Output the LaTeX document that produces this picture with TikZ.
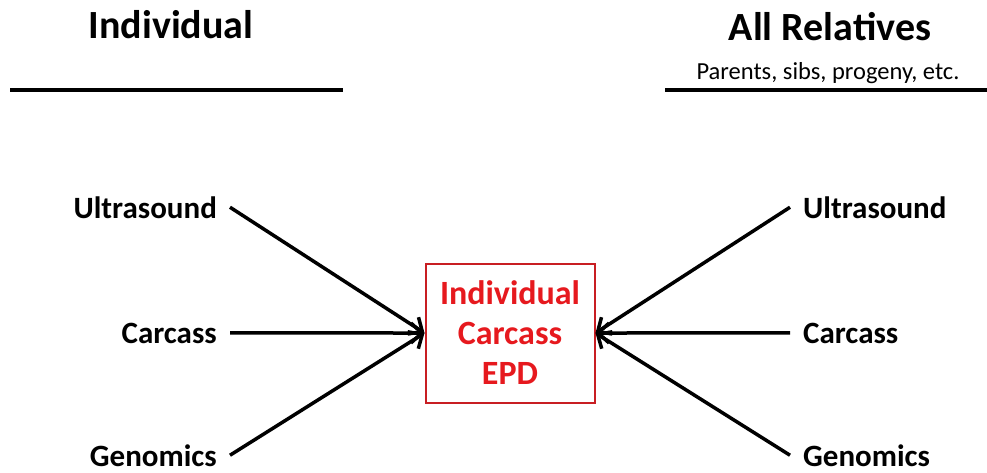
\documentclass[tikz,border=0pt]{standalone}
\usepackage{fontspec}
\setmainfont{Carlito}
\usetikzlibrary{arrows.meta}
\definecolor{boxred}{RGB}{200,30,35}
\definecolor{txtred}{RGB}{230,25,30}
\tikzset{
  title/.style={font=\bfseries\fontsize{40}{44}\selectfont, inner sep=0pt},
  source/.style={font=\bfseries\fontsize{31}{34}\selectfont, inner ysep=0pt, inner xsep=13pt},
  feed/.style={line width=3.5pt, -{Straight Barb[length=11pt,width=20pt]}},
  rule/.style={line width=4pt}
}
\begin{document}
\begin{tikzpicture}[x=1pt,y=-1pt]
  \useasboundingbox (0,0) rectangle (987,472);
  % headings
  \node[title, anchor=base] (indiv) at (171,38) {Individual};
  \node[title, anchor=base] (rel) at (830,40) {All Relatives};
  \node[font=\fontsize{24.5}{26}\selectfont, anchor=base, inner sep=0pt] (relnote) at (828,79) {Parents, sibs, progeny, etc.};
  \draw[rule] (10,90) -- (343,90);
  \draw[rule] (665,90) -- (987,90);
  % central box
  \node[draw=boxred, line width=2pt, minimum width=169, minimum height=139,
        text=txtred, align=center, font=\bfseries\fontsize{34}{40}\selectfont] (epd) at (510,333)
        {Individual\\Carcass\\EPD};
  % left side
  \node[source, anchor=base east] (lu) at (230,218) {Ultrasound};
  \node[source, anchor=base east] (lc) at (230,343) {Carcass};
  \node[source, anchor=base east] (lg) at (230,466) {Genomics};
  % right side
  \node[source, anchor=base west] (ru) at (790,218) {Ultrasound};
  \node[source, anchor=base west] (rc) at (790,343) {Carcass};
  \node[source, anchor=base west] (rg) at (790,466) {Genomics};
  \foreach \s in {lu,lc,lg}
  {
      \draw[feed] (\s.east) -- (epd.west);
  }
  \foreach \s in {ru,rc,rg}
  {
      \draw[feed] (\s.west) -- (epd.east);
  }
\end{tikzpicture}
\end{document}
